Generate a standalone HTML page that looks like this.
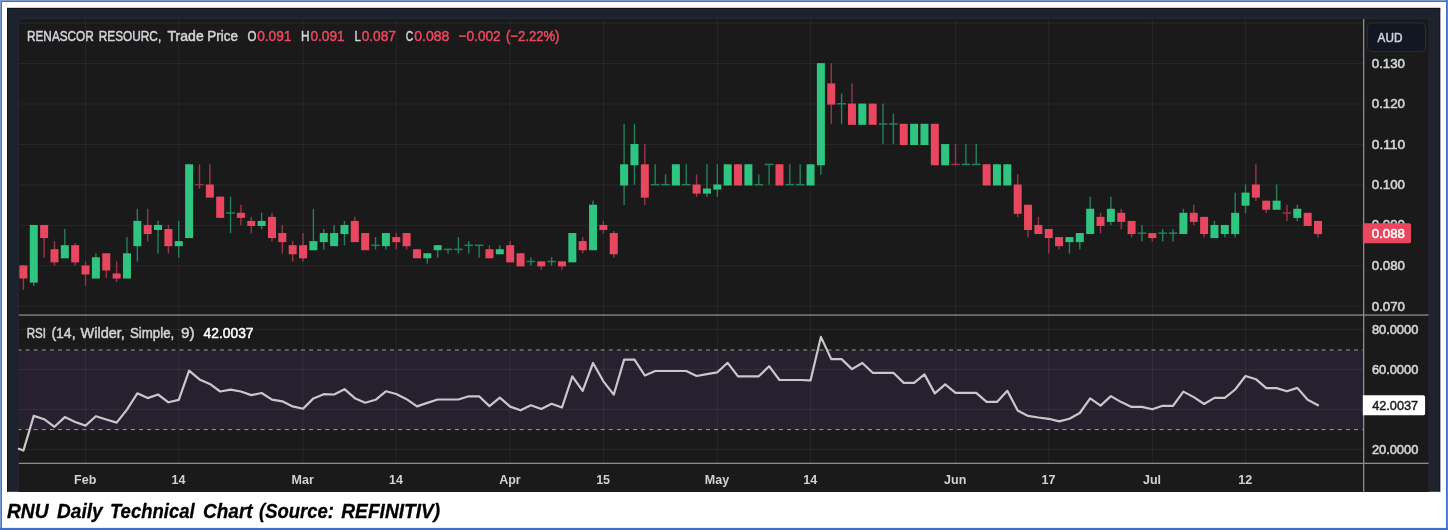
<!DOCTYPE html>
<html lang="en"><head><meta charset="utf-8"><title>RNU Daily Technical Chart</title>
<style>html,body{margin:0;padding:0;background:#fff;}body{width:1448px;height:530px;overflow:hidden;font-family:'Liberation Sans', sans-serif;}svg text{white-space:pre;}</style>
</head><body>
<svg width="1448" height="530" viewBox="0 0 1448 530" style="display:block">
<rect x="0" y="0" width="1448" height="530" fill="#ffffff"/>
<rect x="0" y="0" width="1448" height="2" fill="#4472c4"/>
<rect x="0" y="0" width="2" height="530" fill="#4472c4"/>
<rect x="0" y="0" width="1448" height="0.9" fill="#7f9fda"/>
<rect x="0" y="0" width="0.9" height="530" fill="#7f9fda"/>
<rect x="1446" y="0" width="2" height="530" fill="#4271c5"/>
<rect x="1447.1" y="0" width="0.9" height="530" fill="#5f88d0"/>
<rect x="0" y="527.9" width="1448" height="2.1" fill="#4070c4"/>
<rect x="7.1" y="7.9" width="1433.1000000000001" height="483.90000000000003" fill="#1e222d"/>
<rect x="7.1" y="7.9" width="1433.1000000000001" height="1" fill="#10131c"/>
<rect x="7.1" y="7.9" width="1" height="483.90000000000003" fill="#10131c"/>
<rect x="1439.2" y="7.9" width="1" height="483.90000000000003" fill="#141722"/>
<rect x="18.0" y="18.2" width="1411.3999999999999" height="473.6" fill="#262a35"/>
<rect x="18.8" y="19.0" width="1409.8" height="472.8" fill="#1a1a1a"/>
<rect x="18.8" y="350.3" width="1344.8" height="79.30000000000001" fill="#27212f"/>
<rect x="85.04" y="19.0" width="1" height="444.3" fill="#ffffff" fill-opacity="0.06"/>
<rect x="178.25" y="19.0" width="1" height="444.3" fill="#ffffff" fill-opacity="0.06"/>
<rect x="302.54" y="19.0" width="1" height="444.3" fill="#ffffff" fill-opacity="0.06"/>
<rect x="395.75" y="19.0" width="1" height="444.3" fill="#ffffff" fill-opacity="0.06"/>
<rect x="509.68" y="19.0" width="1" height="444.3" fill="#ffffff" fill-opacity="0.06"/>
<rect x="602.89" y="19.0" width="1" height="444.3" fill="#ffffff" fill-opacity="0.06"/>
<rect x="716.82" y="19.0" width="1" height="444.3" fill="#ffffff" fill-opacity="0.06"/>
<rect x="810.03" y="19.0" width="1" height="444.3" fill="#ffffff" fill-opacity="0.06"/>
<rect x="955.03" y="19.0" width="1" height="444.3" fill="#ffffff" fill-opacity="0.06"/>
<rect x="1048.24" y="19.0" width="1" height="444.3" fill="#ffffff" fill-opacity="0.06"/>
<rect x="1151.81" y="19.0" width="1" height="444.3" fill="#ffffff" fill-opacity="0.06"/>
<rect x="1245.03" y="19.0" width="1" height="444.3" fill="#ffffff" fill-opacity="0.06"/>
<rect x="18.8" y="22.60" width="1344.8" height="1" fill="#ffffff" fill-opacity="0.06"/>
<rect x="18.8" y="63.05" width="1344.8" height="1" fill="#ffffff" fill-opacity="0.06"/>
<rect x="18.8" y="103.50" width="1344.8" height="1" fill="#ffffff" fill-opacity="0.06"/>
<rect x="18.8" y="143.95" width="1344.8" height="1" fill="#ffffff" fill-opacity="0.06"/>
<rect x="18.8" y="184.40" width="1344.8" height="1" fill="#ffffff" fill-opacity="0.06"/>
<rect x="18.8" y="224.85" width="1344.8" height="1" fill="#ffffff" fill-opacity="0.06"/>
<rect x="18.8" y="265.30" width="1344.8" height="1" fill="#ffffff" fill-opacity="0.06"/>
<rect x="18.8" y="305.75" width="1344.8" height="1" fill="#ffffff" fill-opacity="0.06"/>
<rect x="18.8" y="329.00" width="1344.8" height="1" fill="#ffffff" fill-opacity="0.06"/>
<rect x="18.8" y="369.00" width="1344.8" height="1" fill="#ffffff" fill-opacity="0.06"/>
<rect x="18.8" y="409.00" width="1344.8" height="1" fill="#ffffff" fill-opacity="0.06"/>
<rect x="18.8" y="449.00" width="1344.8" height="1" fill="#ffffff" fill-opacity="0.06"/>
<line x1="18.8" y1="350.0" x2="1363.6" y2="350.0" stroke="#9c9ca2" stroke-width="1" stroke-dasharray="4 4.1" stroke-dashoffset="1.3"/>
<line x1="18.8" y1="429.6" x2="1363.6" y2="429.6" stroke="#9c9ca2" stroke-width="1" stroke-dasharray="4 4.1" stroke-dashoffset="1.3"/>
<rect x="22.70" y="265.40" width="1.4" height="24.57" fill="#9c3449"/>
<rect x="19.40" y="265.40" width="8.0" height="13.13" fill="#e9475f"/>
<rect x="33.06" y="224.95" width="1.4" height="60.97" fill="#22825a"/>
<rect x="29.76" y="224.95" width="8.0" height="57.63" fill="#30c481"/>
<rect x="43.41" y="224.95" width="1.4" height="32.66" fill="#9c3449"/>
<rect x="40.11" y="224.95" width="8.0" height="13.13" fill="#e9475f"/>
<rect x="53.77" y="241.13" width="1.4" height="24.57" fill="#9c3449"/>
<rect x="50.47" y="249.22" width="8.0" height="13.13" fill="#e9475f"/>
<rect x="64.13" y="229.00" width="1.4" height="28.62" fill="#22825a"/>
<rect x="60.83" y="245.18" width="8.0" height="13.13" fill="#30c481"/>
<rect x="74.48" y="243.15" width="1.4" height="22.55" fill="#9c3449"/>
<rect x="71.19" y="245.18" width="8.0" height="17.18" fill="#e9475f"/>
<rect x="84.84" y="261.35" width="1.4" height="24.57" fill="#9c3449"/>
<rect x="81.54" y="265.40" width="8.0" height="9.09" fill="#e9475f"/>
<rect x="95.20" y="253.27" width="1.4" height="24.57" fill="#22825a"/>
<rect x="91.90" y="257.31" width="8.0" height="21.22" fill="#30c481"/>
<rect x="105.56" y="253.27" width="1.4" height="24.57" fill="#9c3449"/>
<rect x="102.26" y="253.27" width="8.0" height="17.18" fill="#e9475f"/>
<rect x="115.91" y="261.35" width="1.4" height="20.53" fill="#9c3449"/>
<rect x="112.61" y="273.49" width="8.0" height="5.04" fill="#e9475f"/>
<rect x="126.27" y="237.09" width="1.4" height="40.75" fill="#22825a"/>
<rect x="122.97" y="253.27" width="8.0" height="25.27" fill="#30c481"/>
<rect x="136.63" y="208.77" width="1.4" height="52.88" fill="#22825a"/>
<rect x="133.33" y="220.91" width="8.0" height="25.27" fill="#30c481"/>
<rect x="146.98" y="208.77" width="1.4" height="32.66" fill="#9c3449"/>
<rect x="143.68" y="224.95" width="8.0" height="9.09" fill="#e9475f"/>
<rect x="157.34" y="220.91" width="1.4" height="32.66" fill="#22825a"/>
<rect x="154.04" y="224.95" width="8.0" height="5.04" fill="#30c481"/>
<rect x="167.70" y="224.95" width="1.4" height="28.62" fill="#9c3449"/>
<rect x="164.40" y="229.00" width="8.0" height="17.18" fill="#e9475f"/>
<rect x="178.06" y="220.91" width="1.4" height="36.71" fill="#22825a"/>
<rect x="174.75" y="241.13" width="8.0" height="5.05" fill="#30c481"/>
<rect x="188.41" y="164.28" width="1.4" height="73.11" fill="#22825a"/>
<rect x="185.11" y="164.28" width="8.0" height="73.81" fill="#30c481"/>
<rect x="198.77" y="164.28" width="1.4" height="24.57" fill="#9c3449"/>
<rect x="195.17" y="183.90" width="8.60" height="1.5" fill="#9c3449"/>
<rect x="209.13" y="164.28" width="1.4" height="32.66" fill="#9c3449"/>
<rect x="205.83" y="184.50" width="8.0" height="13.13" fill="#e9475f"/>
<rect x="219.48" y="196.63" width="1.4" height="20.53" fill="#9c3449"/>
<rect x="216.18" y="196.63" width="8.0" height="21.23" fill="#e9475f"/>
<rect x="229.84" y="196.63" width="1.4" height="36.71" fill="#22825a"/>
<rect x="226.24" y="212.22" width="8.60" height="1.5" fill="#22825a"/>
<rect x="240.20" y="204.72" width="1.4" height="20.53" fill="#9c3449"/>
<rect x="236.90" y="212.81" width="8.0" height="5.05" fill="#e9475f"/>
<rect x="250.55" y="216.86" width="1.4" height="16.48" fill="#9c3449"/>
<rect x="247.25" y="220.91" width="8.0" height="5.05" fill="#e9475f"/>
<rect x="260.91" y="212.81" width="1.4" height="16.48" fill="#22825a"/>
<rect x="257.61" y="220.91" width="8.0" height="5.05" fill="#30c481"/>
<rect x="271.27" y="212.81" width="1.4" height="28.62" fill="#9c3449"/>
<rect x="267.97" y="216.86" width="8.0" height="21.22" fill="#e9475f"/>
<rect x="281.62" y="224.95" width="1.4" height="28.62" fill="#9c3449"/>
<rect x="278.32" y="233.04" width="8.0" height="9.09" fill="#e9475f"/>
<rect x="291.98" y="241.13" width="1.4" height="20.52" fill="#9c3449"/>
<rect x="288.68" y="245.18" width="8.0" height="9.09" fill="#e9475f"/>
<rect x="302.34" y="233.04" width="1.4" height="28.61" fill="#9c3449"/>
<rect x="299.04" y="245.18" width="8.0" height="13.13" fill="#e9475f"/>
<rect x="312.70" y="208.77" width="1.4" height="40.75" fill="#22825a"/>
<rect x="309.40" y="241.13" width="8.0" height="9.09" fill="#30c481"/>
<rect x="323.05" y="229.00" width="1.4" height="20.53" fill="#22825a"/>
<rect x="319.75" y="233.04" width="8.0" height="9.09" fill="#30c481"/>
<rect x="333.41" y="224.95" width="1.4" height="20.53" fill="#22825a"/>
<rect x="330.11" y="233.04" width="8.0" height="13.14" fill="#30c481"/>
<rect x="343.77" y="220.91" width="1.4" height="24.57" fill="#22825a"/>
<rect x="340.47" y="224.95" width="8.0" height="9.09" fill="#30c481"/>
<rect x="354.12" y="216.86" width="1.4" height="24.57" fill="#9c3449"/>
<rect x="350.82" y="220.91" width="8.0" height="21.22" fill="#e9475f"/>
<rect x="364.48" y="233.04" width="1.4" height="16.48" fill="#9c3449"/>
<rect x="361.18" y="233.04" width="8.0" height="17.18" fill="#e9475f"/>
<rect x="374.84" y="237.09" width="1.4" height="12.44" fill="#22825a"/>
<rect x="371.24" y="244.58" width="8.60" height="1.5" fill="#22825a"/>
<rect x="385.19" y="233.04" width="1.4" height="16.48" fill="#22825a"/>
<rect x="381.89" y="233.04" width="8.0" height="13.14" fill="#30c481"/>
<rect x="395.55" y="233.04" width="1.4" height="16.48" fill="#9c3449"/>
<rect x="392.25" y="237.09" width="8.0" height="5.04" fill="#e9475f"/>
<rect x="405.91" y="233.04" width="1.4" height="16.48" fill="#9c3449"/>
<rect x="402.61" y="233.04" width="8.0" height="13.14" fill="#e9475f"/>
<rect x="416.27" y="249.22" width="1.4" height="8.39" fill="#9c3449"/>
<rect x="412.97" y="249.22" width="8.0" height="9.09" fill="#e9475f"/>
<rect x="426.62" y="253.27" width="1.4" height="10.41" fill="#22825a"/>
<rect x="423.32" y="253.27" width="8.0" height="5.04" fill="#30c481"/>
<rect x="436.98" y="245.18" width="1.4" height="12.44" fill="#22825a"/>
<rect x="433.68" y="245.18" width="8.0" height="5.04" fill="#30c481"/>
<rect x="447.34" y="249.22" width="1.4" height="4.35" fill="#22825a"/>
<rect x="443.74" y="248.62" width="8.60" height="1.5" fill="#22825a"/>
<rect x="457.69" y="237.09" width="1.4" height="16.48" fill="#22825a"/>
<rect x="454.09" y="248.62" width="8.60" height="1.5" fill="#22825a"/>
<rect x="468.05" y="241.13" width="1.4" height="12.44" fill="#22825a"/>
<rect x="464.45" y="244.58" width="8.60" height="1.5" fill="#22825a"/>
<rect x="478.41" y="245.18" width="1.4" height="12.44" fill="#22825a"/>
<rect x="474.81" y="244.58" width="8.60" height="1.5" fill="#22825a"/>
<rect x="488.76" y="245.18" width="1.4" height="12.44" fill="#9c3449"/>
<rect x="485.46" y="249.22" width="8.0" height="9.09" fill="#e9475f"/>
<rect x="499.12" y="245.18" width="1.4" height="8.39" fill="#22825a"/>
<rect x="495.82" y="249.22" width="8.0" height="5.05" fill="#30c481"/>
<rect x="509.48" y="241.13" width="1.4" height="20.52" fill="#9c3449"/>
<rect x="506.18" y="245.18" width="8.0" height="17.18" fill="#e9475f"/>
<rect x="519.84" y="253.27" width="1.4" height="12.43" fill="#9c3449"/>
<rect x="516.54" y="253.27" width="8.0" height="13.13" fill="#e9475f"/>
<rect x="530.19" y="257.31" width="1.4" height="8.39" fill="#22825a"/>
<rect x="526.59" y="260.75" width="8.60" height="1.5" fill="#22825a"/>
<rect x="540.55" y="261.35" width="1.4" height="8.39" fill="#9c3449"/>
<rect x="537.25" y="261.35" width="8.0" height="5.05" fill="#e9475f"/>
<rect x="550.91" y="257.31" width="1.4" height="8.39" fill="#22825a"/>
<rect x="547.31" y="260.75" width="8.60" height="1.5" fill="#22825a"/>
<rect x="561.26" y="261.35" width="1.4" height="8.39" fill="#9c3449"/>
<rect x="557.96" y="261.35" width="8.0" height="5.05" fill="#e9475f"/>
<rect x="571.62" y="233.04" width="1.4" height="28.61" fill="#22825a"/>
<rect x="568.32" y="233.04" width="8.0" height="29.31" fill="#30c481"/>
<rect x="581.98" y="237.09" width="1.4" height="16.48" fill="#9c3449"/>
<rect x="578.68" y="241.13" width="8.0" height="9.09" fill="#e9475f"/>
<rect x="592.33" y="200.68" width="1.4" height="48.84" fill="#22825a"/>
<rect x="589.03" y="204.72" width="8.0" height="45.50" fill="#30c481"/>
<rect x="602.69" y="220.91" width="1.4" height="12.44" fill="#9c3449"/>
<rect x="599.39" y="224.95" width="8.0" height="5.04" fill="#e9475f"/>
<rect x="613.05" y="231.02" width="1.4" height="26.59" fill="#9c3449"/>
<rect x="609.75" y="233.04" width="8.0" height="21.23" fill="#e9475f"/>
<rect x="623.41" y="123.82" width="1.4" height="81.20" fill="#22825a"/>
<rect x="620.11" y="164.28" width="8.0" height="21.22" fill="#30c481"/>
<rect x="633.76" y="123.82" width="1.4" height="60.98" fill="#22825a"/>
<rect x="630.46" y="144.05" width="8.0" height="21.22" fill="#30c481"/>
<rect x="644.12" y="144.05" width="1.4" height="60.97" fill="#9c3449"/>
<rect x="640.82" y="164.28" width="8.0" height="33.36" fill="#e9475f"/>
<rect x="654.48" y="164.28" width="1.4" height="20.53" fill="#22825a"/>
<rect x="650.88" y="183.90" width="8.60" height="1.5" fill="#22825a"/>
<rect x="664.83" y="174.39" width="1.4" height="10.41" fill="#22825a"/>
<rect x="661.23" y="183.90" width="8.60" height="1.5" fill="#22825a"/>
<rect x="675.19" y="164.28" width="1.4" height="20.53" fill="#22825a"/>
<rect x="671.89" y="164.28" width="8.0" height="21.22" fill="#30c481"/>
<rect x="685.55" y="164.28" width="1.4" height="20.53" fill="#22825a"/>
<rect x="681.95" y="183.90" width="8.60" height="1.5" fill="#22825a"/>
<rect x="695.90" y="174.39" width="1.4" height="22.55" fill="#9c3449"/>
<rect x="692.60" y="184.50" width="8.0" height="9.09" fill="#e9475f"/>
<rect x="706.26" y="164.28" width="1.4" height="32.66" fill="#22825a"/>
<rect x="702.96" y="188.54" width="8.0" height="5.05" fill="#30c481"/>
<rect x="716.62" y="164.28" width="1.4" height="32.66" fill="#22825a"/>
<rect x="713.32" y="184.50" width="8.0" height="5.04" fill="#30c481"/>
<rect x="726.98" y="164.28" width="1.4" height="20.53" fill="#22825a"/>
<rect x="723.68" y="164.28" width="8.0" height="21.22" fill="#30c481"/>
<rect x="737.33" y="164.28" width="1.4" height="20.53" fill="#9c3449"/>
<rect x="734.03" y="164.28" width="8.0" height="21.22" fill="#e9475f"/>
<rect x="747.69" y="164.28" width="1.4" height="20.53" fill="#22825a"/>
<rect x="744.39" y="164.28" width="8.0" height="21.22" fill="#30c481"/>
<rect x="758.05" y="174.39" width="1.4" height="10.41" fill="#22825a"/>
<rect x="754.45" y="183.90" width="8.60" height="1.5" fill="#22825a"/>
<rect x="768.40" y="164.28" width="1.4" height="20.53" fill="#22825a"/>
<rect x="764.80" y="163.68" width="8.60" height="1.5" fill="#22825a"/>
<rect x="778.76" y="164.28" width="1.4" height="20.53" fill="#9c3449"/>
<rect x="775.46" y="164.28" width="8.0" height="21.22" fill="#e9475f"/>
<rect x="789.12" y="164.28" width="1.4" height="20.53" fill="#22825a"/>
<rect x="785.52" y="183.90" width="8.60" height="1.5" fill="#22825a"/>
<rect x="799.47" y="164.28" width="1.4" height="20.53" fill="#22825a"/>
<rect x="795.88" y="183.90" width="8.60" height="1.5" fill="#22825a"/>
<rect x="809.83" y="164.28" width="1.4" height="20.53" fill="#22825a"/>
<rect x="806.53" y="164.28" width="8.0" height="21.22" fill="#30c481"/>
<rect x="820.19" y="63.15" width="1.4" height="111.54" fill="#22825a"/>
<rect x="816.89" y="63.15" width="8.0" height="102.12" fill="#30c481"/>
<rect x="830.55" y="63.15" width="1.4" height="60.97" fill="#9c3449"/>
<rect x="827.25" y="83.38" width="8.0" height="21.22" fill="#e9475f"/>
<rect x="840.90" y="93.49" width="1.4" height="30.64" fill="#22825a"/>
<rect x="837.30" y="103.00" width="8.60" height="1.5" fill="#22825a"/>
<rect x="851.26" y="83.38" width="1.4" height="40.75" fill="#9c3449"/>
<rect x="847.96" y="103.60" width="8.0" height="21.22" fill="#e9475f"/>
<rect x="861.62" y="103.60" width="1.4" height="20.52" fill="#22825a"/>
<rect x="858.32" y="103.60" width="8.0" height="21.22" fill="#30c481"/>
<rect x="871.97" y="103.60" width="1.4" height="20.52" fill="#9c3449"/>
<rect x="868.67" y="103.60" width="8.0" height="21.22" fill="#e9475f"/>
<rect x="882.33" y="103.60" width="1.4" height="40.75" fill="#22825a"/>
<rect x="878.73" y="123.22" width="8.60" height="1.5" fill="#22825a"/>
<rect x="892.69" y="113.71" width="1.4" height="30.64" fill="#22825a"/>
<rect x="889.09" y="123.22" width="8.60" height="1.5" fill="#22825a"/>
<rect x="903.04" y="123.82" width="1.4" height="20.53" fill="#9c3449"/>
<rect x="899.74" y="123.82" width="8.0" height="21.23" fill="#e9475f"/>
<rect x="913.40" y="123.82" width="1.4" height="20.53" fill="#22825a"/>
<rect x="910.10" y="123.82" width="8.0" height="21.23" fill="#30c481"/>
<rect x="923.76" y="123.82" width="1.4" height="20.53" fill="#22825a"/>
<rect x="920.46" y="123.82" width="8.0" height="21.23" fill="#30c481"/>
<rect x="934.12" y="123.82" width="1.4" height="40.75" fill="#9c3449"/>
<rect x="930.82" y="123.82" width="8.0" height="41.45" fill="#e9475f"/>
<rect x="944.47" y="144.05" width="1.4" height="20.53" fill="#22825a"/>
<rect x="941.17" y="144.05" width="8.0" height="21.22" fill="#30c481"/>
<rect x="954.83" y="144.05" width="1.4" height="20.53" fill="#9c3449"/>
<rect x="951.23" y="163.68" width="8.60" height="1.5" fill="#9c3449"/>
<rect x="965.19" y="144.05" width="1.4" height="20.53" fill="#22825a"/>
<rect x="961.59" y="163.68" width="8.60" height="1.5" fill="#22825a"/>
<rect x="975.54" y="144.05" width="1.4" height="20.53" fill="#22825a"/>
<rect x="971.94" y="163.68" width="8.60" height="1.5" fill="#22825a"/>
<rect x="985.90" y="164.28" width="1.4" height="20.53" fill="#9c3449"/>
<rect x="982.60" y="164.28" width="8.0" height="21.22" fill="#e9475f"/>
<rect x="996.26" y="164.28" width="1.4" height="20.53" fill="#22825a"/>
<rect x="992.96" y="164.28" width="8.0" height="21.22" fill="#30c481"/>
<rect x="1006.61" y="164.28" width="1.4" height="20.53" fill="#22825a"/>
<rect x="1003.31" y="164.28" width="8.0" height="21.22" fill="#30c481"/>
<rect x="1016.97" y="174.39" width="1.4" height="42.77" fill="#9c3449"/>
<rect x="1013.67" y="184.50" width="8.0" height="29.31" fill="#e9475f"/>
<rect x="1027.33" y="204.72" width="1.4" height="32.66" fill="#9c3449"/>
<rect x="1024.03" y="204.72" width="8.0" height="25.27" fill="#e9475f"/>
<rect x="1037.69" y="216.86" width="1.4" height="16.48" fill="#9c3449"/>
<rect x="1034.39" y="224.95" width="8.0" height="9.09" fill="#e9475f"/>
<rect x="1048.04" y="229.00" width="1.4" height="24.57" fill="#9c3449"/>
<rect x="1044.74" y="229.00" width="8.0" height="9.09" fill="#e9475f"/>
<rect x="1058.40" y="237.09" width="1.4" height="12.44" fill="#9c3449"/>
<rect x="1055.10" y="237.09" width="8.0" height="9.09" fill="#e9475f"/>
<rect x="1068.76" y="237.09" width="1.4" height="16.48" fill="#22825a"/>
<rect x="1065.46" y="237.09" width="8.0" height="5.04" fill="#30c481"/>
<rect x="1079.11" y="233.04" width="1.4" height="16.48" fill="#22825a"/>
<rect x="1075.81" y="233.04" width="8.0" height="9.09" fill="#30c481"/>
<rect x="1089.47" y="196.63" width="1.4" height="36.71" fill="#22825a"/>
<rect x="1086.17" y="208.77" width="8.0" height="25.27" fill="#30c481"/>
<rect x="1099.83" y="212.81" width="1.4" height="20.53" fill="#9c3449"/>
<rect x="1096.53" y="216.86" width="8.0" height="9.09" fill="#e9475f"/>
<rect x="1110.18" y="196.63" width="1.4" height="28.62" fill="#22825a"/>
<rect x="1106.88" y="208.77" width="8.0" height="13.13" fill="#30c481"/>
<rect x="1120.54" y="208.77" width="1.4" height="20.53" fill="#9c3449"/>
<rect x="1117.24" y="212.81" width="8.0" height="9.09" fill="#e9475f"/>
<rect x="1130.90" y="220.91" width="1.4" height="16.48" fill="#9c3449"/>
<rect x="1127.60" y="220.91" width="8.0" height="13.13" fill="#e9475f"/>
<rect x="1141.26" y="224.95" width="1.4" height="16.48" fill="#22825a"/>
<rect x="1137.66" y="232.44" width="8.60" height="1.5" fill="#22825a"/>
<rect x="1151.61" y="233.04" width="1.4" height="8.39" fill="#9c3449"/>
<rect x="1148.31" y="233.04" width="8.0" height="5.05" fill="#e9475f"/>
<rect x="1161.97" y="229.00" width="1.4" height="12.44" fill="#22825a"/>
<rect x="1158.37" y="232.44" width="8.60" height="1.5" fill="#22825a"/>
<rect x="1172.33" y="229.00" width="1.4" height="12.44" fill="#22825a"/>
<rect x="1168.73" y="232.44" width="8.60" height="1.5" fill="#22825a"/>
<rect x="1182.68" y="208.77" width="1.4" height="24.57" fill="#22825a"/>
<rect x="1179.38" y="212.81" width="8.0" height="21.22" fill="#30c481"/>
<rect x="1193.04" y="204.72" width="1.4" height="20.53" fill="#9c3449"/>
<rect x="1189.74" y="212.81" width="8.0" height="9.09" fill="#e9475f"/>
<rect x="1203.40" y="216.86" width="1.4" height="20.53" fill="#9c3449"/>
<rect x="1200.10" y="216.86" width="8.0" height="17.18" fill="#e9475f"/>
<rect x="1213.75" y="220.91" width="1.4" height="16.48" fill="#22825a"/>
<rect x="1210.45" y="224.95" width="8.0" height="13.13" fill="#30c481"/>
<rect x="1224.11" y="224.95" width="1.4" height="12.44" fill="#22825a"/>
<rect x="1220.81" y="224.95" width="8.0" height="9.09" fill="#30c481"/>
<rect x="1234.47" y="192.59" width="1.4" height="44.80" fill="#22825a"/>
<rect x="1231.17" y="212.81" width="8.0" height="21.22" fill="#30c481"/>
<rect x="1244.83" y="184.50" width="1.4" height="28.62" fill="#22825a"/>
<rect x="1241.53" y="192.59" width="8.0" height="13.13" fill="#30c481"/>
<rect x="1255.18" y="164.28" width="1.4" height="36.71" fill="#9c3449"/>
<rect x="1251.88" y="184.50" width="8.0" height="13.13" fill="#e9475f"/>
<rect x="1265.54" y="200.68" width="1.4" height="12.44" fill="#9c3449"/>
<rect x="1262.24" y="200.68" width="8.0" height="9.09" fill="#e9475f"/>
<rect x="1275.90" y="184.50" width="1.4" height="24.57" fill="#22825a"/>
<rect x="1272.60" y="200.68" width="8.0" height="9.09" fill="#30c481"/>
<rect x="1286.25" y="204.72" width="1.4" height="16.48" fill="#9c3449"/>
<rect x="1282.65" y="212.22" width="8.60" height="1.5" fill="#9c3449"/>
<rect x="1296.61" y="204.72" width="1.4" height="16.48" fill="#22825a"/>
<rect x="1293.31" y="208.77" width="8.0" height="9.09" fill="#30c481"/>
<rect x="1306.97" y="212.81" width="1.4" height="12.44" fill="#9c3449"/>
<rect x="1303.67" y="212.81" width="8.0" height="13.14" fill="#e9475f"/>
<rect x="1317.33" y="220.91" width="1.4" height="16.48" fill="#9c3449"/>
<rect x="1314.03" y="220.91" width="8.0" height="13.13" fill="#e9475f"/>
<polyline points="18.8,448.8 23.40,450.6 33.76,415.9 44.11,419.2 54.47,426.8 64.83,417.1 75.19,422.0 85.54,425.6 95.90,416.2 106.26,419.5 116.61,422.6 126.97,409.6 137.33,393.3 147.68,398.1 158.04,394.5 168.40,402.3 178.75,399.9 189.11,370.7 199.47,379.4 209.83,383.9 220.18,391.5 230.54,389.7 240.90,391.5 251.25,395.1 261.61,393.0 271.97,399.6 282.32,401.3 292.68,406.4 303.04,408.7 313.40,398.4 323.75,394.2 334.11,394.5 344.47,389.2 354.82,398.2 365.18,402.7 375.54,399.8 385.89,391.3 396.25,394.0 406.61,399.2 416.97,406.4 427.32,402.9 437.68,399.5 448.04,399.5 458.39,399.5 468.75,396.3 479.11,396.3 489.46,406.1 499.82,397.7 510.18,406.6 520.54,410.3 530.89,405.3 541.25,409.0 551.61,403.8 561.96,407.5 572.32,376.3 582.68,390.8 593.03,363.0 603.39,381.3 613.75,394.7 624.11,359.6 634.46,359.6 644.82,375.5 655.18,371.0 665.53,371.0 675.89,371.0 686.25,371.0 696.60,376.0 706.96,374.1 717.32,372.3 727.68,362.8 738.03,376.3 748.39,376.3 758.75,376.3 769.10,366.2 779.46,380.0 789.82,380.0 800.17,380.0 810.53,380.4 820.89,336.9 831.25,359.1 841.60,359.1 851.96,369.1 862.32,363.0 872.67,372.8 883.03,372.8 893.39,372.8 903.74,382.9 914.10,382.9 924.46,374.4 934.82,393.4 945.17,384.4 955.53,392.9 965.89,392.9 976.24,392.9 986.60,401.9 996.96,401.9 1007.31,390.8 1017.67,410.6 1028.03,415.9 1038.39,417.5 1048.74,418.8 1059.10,421.4 1069.46,418.8 1079.81,413.0 1090.17,398.3 1100.53,405.6 1110.88,396.1 1121.24,402.1 1131.60,406.9 1141.96,406.9 1152.31,409.3 1162.67,405.8 1173.03,405.8 1183.38,391.6 1193.74,397.1 1204.10,404.0 1214.45,397.9 1224.81,397.9 1235.17,389.5 1245.53,376.0 1255.88,379.2 1266.24,388.1 1276.60,388.1 1286.95,391.3 1297.31,387.9 1307.67,399.8 1318.03,405.3" fill="none" stroke="#c8c8cb" stroke-width="2.2" stroke-linejoin="round" stroke-linecap="round"/>
<rect x="18.8" y="314.4" width="1409.8" height="1.3" fill="#8c8c8c"/>
<rect x="18.8" y="462.7" width="1409.8" height="1.3" fill="#8c8c8c"/>
<rect x="1363.0" y="19.0" width="1.3" height="472.8" fill="#8c8c8c"/>
<text x="1371.8" y="67.85" font-family="'Liberation Sans', sans-serif" font-size="13.3" font-weight="normal" font-style="normal" fill="#d2d3d8" text-anchor="start" textLength="33.2" lengthAdjust="spacingAndGlyphs" stroke="#d2d3d8" stroke-width="0.6" stroke-linejoin="round">0.130</text>
<text x="1371.8" y="108.3" font-family="'Liberation Sans', sans-serif" font-size="13.3" font-weight="normal" font-style="normal" fill="#d2d3d8" text-anchor="start" textLength="33.2" lengthAdjust="spacingAndGlyphs" stroke="#d2d3d8" stroke-width="0.6" stroke-linejoin="round">0.120</text>
<text x="1371.8" y="148.75" font-family="'Liberation Sans', sans-serif" font-size="13.3" font-weight="normal" font-style="normal" fill="#d2d3d8" text-anchor="start" textLength="33.2" lengthAdjust="spacingAndGlyphs" stroke="#d2d3d8" stroke-width="0.6" stroke-linejoin="round">0.110</text>
<text x="1371.8" y="189.2" font-family="'Liberation Sans', sans-serif" font-size="13.3" font-weight="normal" font-style="normal" fill="#d2d3d8" text-anchor="start" textLength="33.2" lengthAdjust="spacingAndGlyphs" stroke="#d2d3d8" stroke-width="0.6" stroke-linejoin="round">0.100</text>
<text x="1371.8" y="228.95000000000002" font-family="'Liberation Sans', sans-serif" font-size="13.3" font-weight="normal" font-style="normal" fill="#d2d3d8" text-anchor="start" textLength="33.2" lengthAdjust="spacingAndGlyphs" stroke="#d2d3d8" stroke-width="0.6" stroke-linejoin="round">0.090</text>
<text x="1371.8" y="270.4" font-family="'Liberation Sans', sans-serif" font-size="13.3" font-weight="normal" font-style="normal" fill="#d2d3d8" text-anchor="start" textLength="33.2" lengthAdjust="spacingAndGlyphs" stroke="#d2d3d8" stroke-width="0.6" stroke-linejoin="round">0.080</text>
<text x="1371.8" y="310.54999999999995" font-family="'Liberation Sans', sans-serif" font-size="13.3" font-weight="normal" font-style="normal" fill="#d2d3d8" text-anchor="start" textLength="33.2" lengthAdjust="spacingAndGlyphs" stroke="#d2d3d8" stroke-width="0.6" stroke-linejoin="round">0.070</text>
<text x="1371.9" y="334.4" font-family="'Liberation Sans', sans-serif" font-size="13.3" font-weight="normal" font-style="normal" fill="#d2d3d8" text-anchor="start" textLength="46.4" lengthAdjust="spacingAndGlyphs" stroke="#d2d3d8" stroke-width="0.6" stroke-linejoin="round">80.0000</text>
<text x="1371.9" y="374.4" font-family="'Liberation Sans', sans-serif" font-size="13.3" font-weight="normal" font-style="normal" fill="#d2d3d8" text-anchor="start" textLength="46.4" lengthAdjust="spacingAndGlyphs" stroke="#d2d3d8" stroke-width="0.6" stroke-linejoin="round">60.0000</text>
<text x="1371.9" y="454.4" font-family="'Liberation Sans', sans-serif" font-size="13.3" font-weight="normal" font-style="normal" fill="#d2d3d8" text-anchor="start" textLength="46.4" lengthAdjust="spacingAndGlyphs" stroke="#d2d3d8" stroke-width="0.6" stroke-linejoin="round">20.0000</text>
<rect x="1367.4" y="22.9" width="58.1" height="28.7" rx="4" fill="#131722" stroke="#2a2e39" stroke-width="1"/>
<text x="1377.6" y="41.6" font-family="'Liberation Sans', sans-serif" font-size="13.2" font-weight="normal" font-style="normal" fill="#cfd2dc" text-anchor="start" textLength="24.8" lengthAdjust="spacingAndGlyphs" stroke="#cfd2dc" stroke-width="0.6" stroke-linejoin="round">AUD</text>
<path d="M1362.8 223.2 H1409.2 Q1411 223.2 1411 225 V241.5 Q1411 243.3 1409.2 243.3 H1362.8 Z" fill="#e9475f"/>
<text x="1371.8" y="237.7" font-family="'Liberation Sans', sans-serif" font-size="13.3" font-weight="normal" font-style="normal" fill="#ffffff" text-anchor="start" textLength="33.2" lengthAdjust="spacingAndGlyphs" stroke="#ffffff" stroke-width="0.5" stroke-linejoin="round">0.088</text>
<path d="M1362.8 395.2 H1423.2 Q1425.1 395.2 1425.1 397.1 V413.4 Q1425.1 415.3 1423.2 415.3 H1362.8 Z" fill="#ffffff"/>
<text x="1372.2" y="410.2" font-family="'Liberation Sans', sans-serif" font-size="13.3" font-weight="normal" font-style="normal" fill="#1a1a1a" text-anchor="start" textLength="46.0" lengthAdjust="spacingAndGlyphs" stroke="#1a1a1a" stroke-width="0.45" stroke-linejoin="round">42.0037</text>
<text x="85.2" y="483.7" font-family="'Liberation Sans', sans-serif" font-size="12.5" font-weight="bold" font-style="normal" fill="#d0d2d6" text-anchor="middle">Feb</text>
<text x="178.5" y="483.7" font-family="'Liberation Sans', sans-serif" font-size="12.5" font-weight="bold" font-style="normal" fill="#d0d2d6" text-anchor="middle">14</text>
<text x="302.7" y="483.7" font-family="'Liberation Sans', sans-serif" font-size="12.5" font-weight="bold" font-style="normal" fill="#d0d2d6" text-anchor="middle">Mar</text>
<text x="396.0" y="483.7" font-family="'Liberation Sans', sans-serif" font-size="12.5" font-weight="bold" font-style="normal" fill="#d0d2d6" text-anchor="middle">14</text>
<text x="509.9" y="483.7" font-family="'Liberation Sans', sans-serif" font-size="12.5" font-weight="bold" font-style="normal" fill="#d0d2d6" text-anchor="middle">Apr</text>
<text x="603.1" y="483.7" font-family="'Liberation Sans', sans-serif" font-size="12.5" font-weight="bold" font-style="normal" fill="#d0d2d6" text-anchor="middle">15</text>
<text x="717.0" y="483.7" font-family="'Liberation Sans', sans-serif" font-size="12.5" font-weight="bold" font-style="normal" fill="#d0d2d6" text-anchor="middle">May</text>
<text x="810.2" y="483.7" font-family="'Liberation Sans', sans-serif" font-size="12.5" font-weight="bold" font-style="normal" fill="#d0d2d6" text-anchor="middle">14</text>
<text x="955.2" y="483.7" font-family="'Liberation Sans', sans-serif" font-size="12.5" font-weight="bold" font-style="normal" fill="#d0d2d6" text-anchor="middle">Jun</text>
<text x="1048.4" y="483.7" font-family="'Liberation Sans', sans-serif" font-size="12.5" font-weight="bold" font-style="normal" fill="#d0d2d6" text-anchor="middle">17</text>
<text x="1152.0" y="483.7" font-family="'Liberation Sans', sans-serif" font-size="12.5" font-weight="bold" font-style="normal" fill="#d0d2d6" text-anchor="middle">Jul</text>
<text x="1245.2" y="483.7" font-family="'Liberation Sans', sans-serif" font-size="12.5" font-weight="bold" font-style="normal" fill="#d0d2d6" text-anchor="middle">12</text>
<text x="27.0" y="40.8" font-family="'Liberation Sans', sans-serif" font-size="14.7" font-weight="normal" font-style="normal" fill="#d2d3d8" text-anchor="start" textLength="66.8" lengthAdjust="spacingAndGlyphs" stroke="#d2d3d8" stroke-width="0.5" stroke-linejoin="round">RENASCOR</text>
<text x="98.7" y="40.8" font-family="'Liberation Sans', sans-serif" font-size="14.7" font-weight="normal" font-style="normal" fill="#d2d3d8" text-anchor="start" textLength="62.5" lengthAdjust="spacingAndGlyphs" stroke="#d2d3d8" stroke-width="0.5" stroke-linejoin="round">RESOURC,</text>
<text x="167.5" y="40.8" font-family="'Liberation Sans', sans-serif" font-size="14.7" font-weight="normal" font-style="normal" fill="#d2d3d8" text-anchor="start" textLength="36.2" lengthAdjust="spacingAndGlyphs" stroke="#d2d3d8" stroke-width="0.5" stroke-linejoin="round">Trade</text>
<text x="207.3" y="40.8" font-family="'Liberation Sans', sans-serif" font-size="14.7" font-weight="normal" font-style="normal" fill="#d2d3d8" text-anchor="start" textLength="30.7" lengthAdjust="spacingAndGlyphs" stroke="#d2d3d8" stroke-width="0.5" stroke-linejoin="round">Price</text>
<text x="247.4" y="40.8" font-family="'Liberation Sans', sans-serif" font-size="14.7" font-weight="normal" font-style="normal" fill="#d2d3d8" text-anchor="start" textLength="8.9" lengthAdjust="spacingAndGlyphs" stroke="#d2d3d8" stroke-width="0.5" stroke-linejoin="round">O</text>
<text x="257.2" y="40.8" font-family="'Liberation Sans', sans-serif" font-size="14.7" font-weight="normal" font-style="normal" fill="#e9475f" text-anchor="start" textLength="34.3" lengthAdjust="spacingAndGlyphs" stroke="#e9475f" stroke-width="0.5" stroke-linejoin="round">0.091</text>
<text x="301" y="40.8" font-family="'Liberation Sans', sans-serif" font-size="14.7" font-weight="normal" font-style="normal" fill="#d2d3d8" text-anchor="start" textLength="8.5" lengthAdjust="spacingAndGlyphs" stroke="#d2d3d8" stroke-width="0.5" stroke-linejoin="round">H</text>
<text x="310.4" y="40.8" font-family="'Liberation Sans', sans-serif" font-size="14.7" font-weight="normal" font-style="normal" fill="#e9475f" text-anchor="start" textLength="34.2" lengthAdjust="spacingAndGlyphs" stroke="#e9475f" stroke-width="0.5" stroke-linejoin="round">0.091</text>
<text x="354.5" y="40.8" font-family="'Liberation Sans', sans-serif" font-size="14.7" font-weight="normal" font-style="normal" fill="#d2d3d8" text-anchor="start" textLength="6.3" lengthAdjust="spacingAndGlyphs" stroke="#d2d3d8" stroke-width="0.5" stroke-linejoin="round">L</text>
<text x="361.7" y="40.8" font-family="'Liberation Sans', sans-serif" font-size="14.7" font-weight="normal" font-style="normal" fill="#e9475f" text-anchor="start" textLength="34.3" lengthAdjust="spacingAndGlyphs" stroke="#e9475f" stroke-width="0.5" stroke-linejoin="round">0.087</text>
<text x="405.8" y="40.8" font-family="'Liberation Sans', sans-serif" font-size="14.7" font-weight="normal" font-style="normal" fill="#d2d3d8" text-anchor="start" textLength="7.5" lengthAdjust="spacingAndGlyphs" stroke="#d2d3d8" stroke-width="0.5" stroke-linejoin="round">C</text>
<text x="414.2" y="40.8" font-family="'Liberation Sans', sans-serif" font-size="14.7" font-weight="normal" font-style="normal" fill="#e9475f" text-anchor="start" textLength="35.2" lengthAdjust="spacingAndGlyphs" stroke="#e9475f" stroke-width="0.5" stroke-linejoin="round">0.088</text>
<text x="458.6" y="40.8" font-family="'Liberation Sans', sans-serif" font-size="14.7" font-weight="normal" font-style="normal" fill="#e9475f" text-anchor="start" textLength="42.1" lengthAdjust="spacingAndGlyphs" stroke="#e9475f" stroke-width="0.5" stroke-linejoin="round">−0.002</text>
<text x="506" y="40.8" font-family="'Liberation Sans', sans-serif" font-size="14.7" font-weight="normal" font-style="normal" fill="#e9475f" text-anchor="start" textLength="53.4" lengthAdjust="spacingAndGlyphs" stroke="#e9475f" stroke-width="0.5" stroke-linejoin="round">(−2.22%)</text>
<text x="26.7" y="337.5" font-family="'Liberation Sans', sans-serif" font-size="14.5" font-weight="normal" font-style="normal" fill="#d2d3d8" text-anchor="start" textLength="19.3" lengthAdjust="spacingAndGlyphs" stroke="#d2d3d8" stroke-width="0.5" stroke-linejoin="round">RSI</text>
<text x="51.4" y="337.5" font-family="'Liberation Sans', sans-serif" font-size="14.5" font-weight="normal" font-style="normal" fill="#d2d3d8" text-anchor="start" textLength="24.2" lengthAdjust="spacingAndGlyphs" stroke="#d2d3d8" stroke-width="0.5" stroke-linejoin="round">(14,</text>
<text x="80.5" y="337.5" font-family="'Liberation Sans', sans-serif" font-size="14.5" font-weight="normal" font-style="normal" fill="#d2d3d8" text-anchor="start" textLength="44.4" lengthAdjust="spacingAndGlyphs" stroke="#d2d3d8" stroke-width="0.5" stroke-linejoin="round">Wilder,</text>
<text x="129.9" y="337.5" font-family="'Liberation Sans', sans-serif" font-size="14.5" font-weight="normal" font-style="normal" fill="#d2d3d8" text-anchor="start" textLength="44.4" lengthAdjust="spacingAndGlyphs" stroke="#d2d3d8" stroke-width="0.5" stroke-linejoin="round">Simple,</text>
<text x="181.0" y="337.5" font-family="'Liberation Sans', sans-serif" font-size="14.5" font-weight="normal" font-style="normal" fill="#d2d3d8" text-anchor="start" textLength="13.6" lengthAdjust="spacingAndGlyphs" stroke="#d2d3d8" stroke-width="0.5" stroke-linejoin="round">9)</text>
<text x="203.6" y="337.5" font-family="'Liberation Sans', sans-serif" font-size="14.5" font-weight="normal" font-style="normal" fill="#ffffff" text-anchor="start" textLength="49.9" lengthAdjust="spacingAndGlyphs" stroke="#ffffff" stroke-width="0.5" stroke-linejoin="round">42.0037</text>
<text x="7.0" y="518" font-family="'Liberation Sans', sans-serif" font-size="20.8" font-weight="bold" font-style="italic" fill="#000000" text-anchor="start" textLength="41.6" lengthAdjust="spacingAndGlyphs" stroke="#000000" stroke-width="0.3" stroke-linejoin="round">RNU</text>
<text x="57.0" y="518" font-family="'Liberation Sans', sans-serif" font-size="20.8" font-weight="bold" font-style="italic" fill="#000000" text-anchor="start" textLength="45.6" lengthAdjust="spacingAndGlyphs" stroke="#000000" stroke-width="0.3" stroke-linejoin="round">Daily</text>
<text x="110.0" y="518" font-family="'Liberation Sans', sans-serif" font-size="20.8" font-weight="bold" font-style="italic" fill="#000000" text-anchor="start" textLength="84.6" lengthAdjust="spacingAndGlyphs" stroke="#000000" stroke-width="0.3" stroke-linejoin="round">Technical</text>
<text x="203.0" y="518" font-family="'Liberation Sans', sans-serif" font-size="20.8" font-weight="bold" font-style="italic" fill="#000000" text-anchor="start" textLength="49.6" lengthAdjust="spacingAndGlyphs" stroke="#000000" stroke-width="0.3" stroke-linejoin="round">Chart</text>
<text x="259.0" y="518" font-family="'Liberation Sans', sans-serif" font-size="20.8" font-weight="bold" font-style="italic" fill="#000000" text-anchor="start" textLength="74.8" lengthAdjust="spacingAndGlyphs" stroke="#000000" stroke-width="0.3" stroke-linejoin="round">(Source:</text>
<text x="341.3" y="518" font-family="'Liberation Sans', sans-serif" font-size="20.8" font-weight="bold" font-style="italic" fill="#000000" text-anchor="start" textLength="98.9" lengthAdjust="spacingAndGlyphs" stroke="#000000" stroke-width="0.3" stroke-linejoin="round">REFINITIV)</text>
</svg>
</body></html>
